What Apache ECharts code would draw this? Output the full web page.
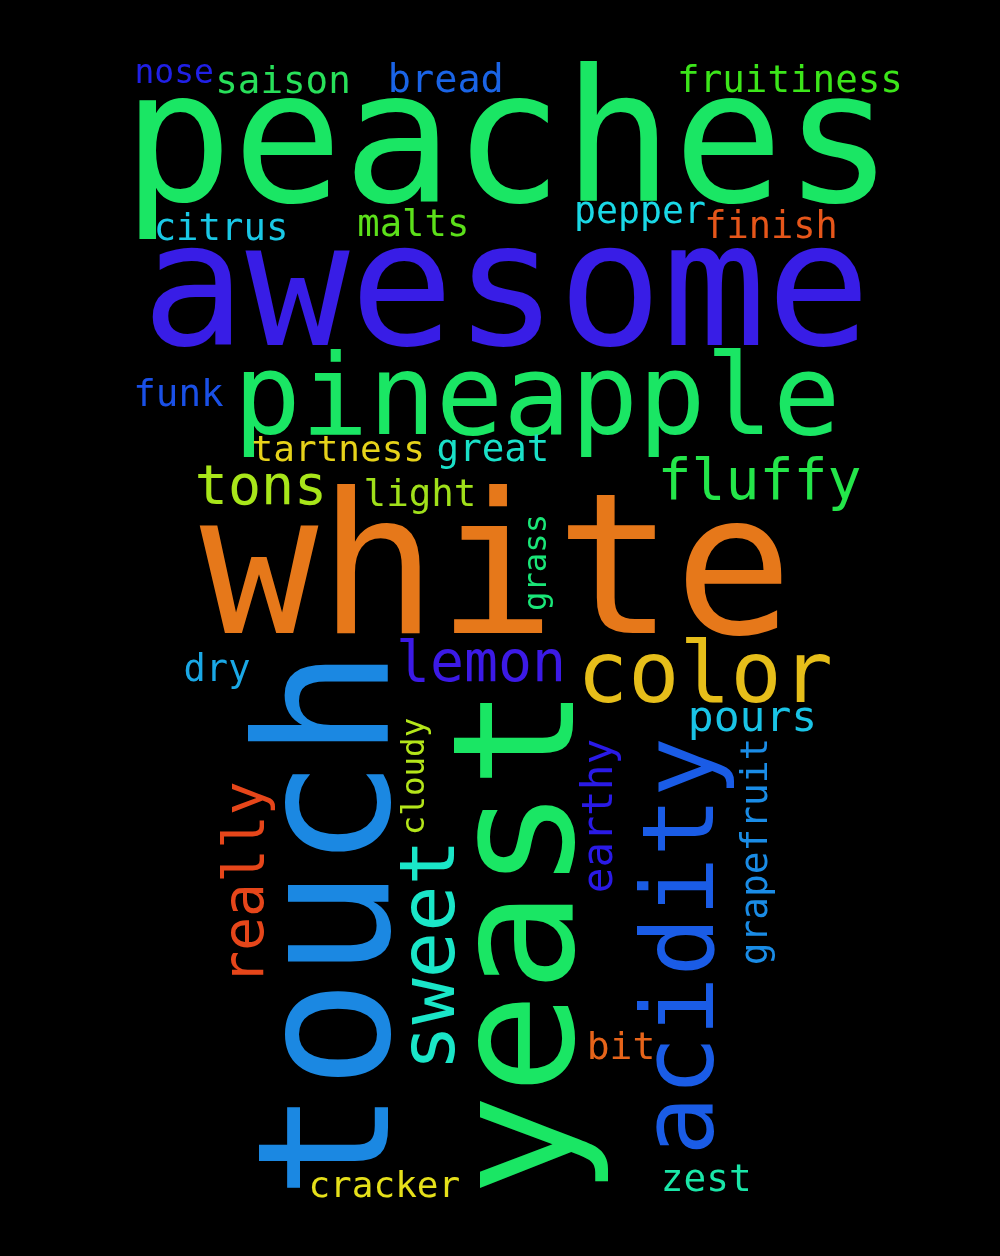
<!DOCTYPE html>
<html>
<head>
<meta charset="utf-8">
<script src="https://cdn.jsdelivr.net/npm/echarts@6/dist/echarts.min.js"></script>
<style>
html,body{margin:0;padding:0;background:#000;}
#chart{width:1000px;height:1256px;}
</style>
</head>
<body>
<div id="chart"></div>
<script>
// Word cloud: words, their layout position (in a 1000 x 1256 data space), weight (font size), orientation and colour
const words = ["white","touch","peaches","awesome","yeast","pineapple","acidity","color","sweet","lemon","really","fluffy","tons","earthy","pours","bread","saison","fruitiness","citrus","malts","finish","funk","great","light","dry","grapefruit","zest","bit","pepper","tartness","cracker","nose","cloudy","grass"];
const posX = [496.3,340.8,508,506,528.5,537,687.2,705,433.9,481,248.2,759.5,261,601,752.5,445.8,283,790,221,413.3,771,178.4,493,420,217,757.4,706.2,621,640,338.3,384.3,174.2,415.9,538];
const posY = [581.8,924,153.8,299.9,941.5,404.6,946.5,680.2,955,666.2,883,484.2,489.6,816,719.7,81.5,82.8,82.2,230.3,226.3,227.9,396.2,451.2,496.2,671.3,851.5,1181.1,1049.4,213.1,451.6,1187.2,74.1,776.5,562.5];
const weights = [197,183,183,173,169.5,112,99.3,85,77,56.5,56.3,56.5,55,42.8,43,38.5,37.5,37.5,37.3,37.2,37,37.5,37.5,37.5,37,37.8,37.7,38,36.5,36,36,33,32.6,32.3];
const vertical = [0,1,0,0,1,0,1,0,1,0,1,0,0,1,0,0,0,0,0,0,0,0,0,0,0,1,0,0,0,0,0,0,1,1];
const colors = ["#e6781a","#1b88e2","#1ae664","#381de6","#1ae664","#1ae664","#1a5ce6","#e6be1a","#1ae6c8","#3c1ae6","#e6461a","#24e64a","#a8e61a","#2a1ae6","#1ac4e6","#1a64e6","#28e05a","#3ce61a","#1ac8e6","#5ce01a","#e6561a","#1a50e6","#1ae0c8","#a0e01a","#1aa8e6","#1a8ce6","#1ae6a8","#e6641a","#1ad8e6","#e6d21a","#e6e01a","#2020e6","#b4e61a","#1ae678"];

const chart = echarts.init(document.getElementById('chart'), null, {renderer: 'canvas'});
const data = words.map((w, i) => ({
  value: [posX[i], posY[i]],
  name: w,
  label: {
    show: true,
    formatter: w,
    fontSize: weights[i],
    rotate: vertical[i] ? 90 : 0,
    color: colors[i],
    opacity: 1
  }
}));
chart.setOption({
  backgroundColor: '#000000',
  animation: false,
  grid: {left: 0, right: 0, top: 0, bottom: 0},
  xAxis: {type: 'value', min: 0, max: 1000, show: false},
  yAxis: {type: 'value', min: 0, max: 1256, inverse: true, show: false},
  series: [{
    type: 'scatter',
    silent: true,
    symbolSize: 2,
    itemStyle: {color: 'rgba(0,0,0,0)'},
    label: {
      show: true,
      position: 'inside',
      align: 'center',
      verticalAlign: 'middle',
      fontFamily: 'DejaVu Sans Mono',
      fontWeight: 'normal',
      opacity: 1
    },
    labelLayout: {hideOverlap: false},
    data: data
  }]
});
</script>
</body>
</html>
